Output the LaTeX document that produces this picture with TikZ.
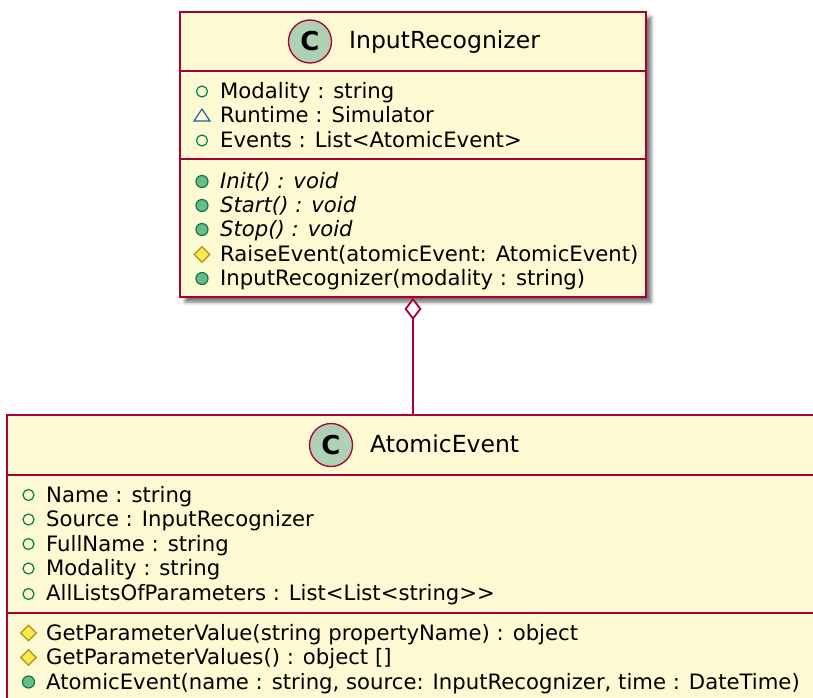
\documentclass[tikz,border=0pt]{standalone}
\usepackage{fontspec}
\setmainfont{DejaVu Sans}[Ligatures=TeXOff]
\usetikzlibrary{arrows.meta,shadows.blur,shapes.geometric}

\definecolor{umlborder}{HTML}{A80036}
\definecolor{umlfill}{HTML}{FDFAD3}
\definecolor{spotfill}{HTML}{ADD1B2}
\definecolor{publine}{HTML}{038048}
\definecolor{pubfill}{HTML}{6DB98A}
\definecolor{pkgline}{HTML}{1963A0}
\definecolor{protline}{HTML}{B38D22}
\definecolor{protfill}{HTML}{F5EC4A}

\tikzset{
  classbox/.style={draw=umlborder, fill=umlfill, line width=1.8pt, inner sep=0pt,
    blur shadow={shadow xshift=5pt, shadow yshift=-5pt, shadow blur radius=3.5pt, shadow opacity=55}},
  sep/.style={draw=umlborder, line width=1.8pt},
  member/.style={anchor=base west, inner sep=0pt, font=\fontsize{21.2}{24}\selectfont},
  abstractmember/.style={anchor=base west, inner sep=0pt, font=\fontsize{21.2}{24}\selectfont\itshape},
  classtitle/.style={anchor=base west, inner sep=0pt, font=\fontsize{23.5}{28}\selectfont},
  spot/.style={circle, draw=umlborder, fill=spotfill, line width=1.3pt, minimum size=43pt,
    inner sep=0pt, font=\fontsize{26}{26}\selectfont\bfseries},
  pubfield/.style={circle, draw=publine, line width=1.2pt, minimum size=11pt, inner sep=0pt},
  pubmethod/.style={circle, draw=publine, fill=pubfill, line width=1.2pt, minimum size=12pt, inner sep=0pt},
  protmethod/.style={diamond, draw=protline, fill=protfill, line width=1.2pt, minimum width=16pt,
    minimum height=16pt, inner sep=0pt},
  pkgfield/.style={draw=pkgline, line width=1.2pt},
  aggregation/.style={draw=umlborder, line width=1.8pt,
    {Diamond[fill=white, length=22pt, width=17pt]}-},
}

\begin{document}
\begin{tikzpicture}[x=1pt, y=-1pt]
  \useasboundingbox (0,0) rectangle (813,698);
  \clip (0,0) rectangle (813,698);

  % ---------------- InputRecognizer ----------------
  \node[classbox, minimum width=466pt, minimum height=285pt] (ir) at (413,154.5) {};
  \draw[sep] (ir.west |- 0,71) -- (ir.east |- 0,71);
  \draw[sep] (ir.west |- 0,159) -- (ir.east |- 0,159);

  \node[spot] (irspot) at (310,41.5) {C};
  \node[classtitle] (irtitle) at (349,49) {InputRecognizer};

  \node[pubfield] (ira1i) at (202,91.5) {};
  \node[member] (ira1) at (220,98.5) {Modality : string};
  \draw[pkgfield, shift={(202,116)}] (-8,5) -- (8,5) -- (0,-7) -- cycle;
  \node[member] (ira2) at (220,123) {Runtime : Simulator};
  \node[pubfield] (ira3i) at (202,140.5) {};
  \node[member] (ira3) at (220,147.5) {Events : List<AtomicEvent>};

  \node[pubmethod] (irm1i) at (202,181.5) {};
  \node[abstractmember] (irm1) at (220,188.5) {Init() : void};
  \node[pubmethod] (irm2i) at (202,205.5) {};
  \node[abstractmember] (irm2) at (220,212.5) {Start() : void};
  \node[pubmethod] (irm3i) at (202,229.5) {};
  \node[abstractmember] (irm3) at (220,236.5) {Stop() : void};
  \node[protmethod] (irm4i) at (202,254.5) {};
  \node[member] (irm4) at (220,261.5) {RaiseEvent(atomicEvent: AtomicEvent)};
  \node[pubmethod] (irm5i) at (202,278.5) {};
  \node[member] (irm5) at (220,285.5) {InputRecognizer(modality : string)};

  % ---------------- AtomicEvent ----------------
  \node[classbox, minimum width=823pt, minimum height=305pt] (ae) at (418.5,567.5) {};
  \draw[sep] (ae.west |- 0,475) -- (ae.east |- 0,475);
  \draw[sep] (ae.west |- 0,613) -- (ae.east |- 0,613);

  \node[spot] (aespot) at (331,445) {C};
  \node[classtitle] (aetitle) at (370,452) {AtomicEvent};

  \node[pubfield] (aea1i) at (28.5,495) {};
  \node[member] (aea1) at (46,502) {Name : string};
  \node[pubfield] (aea2i) at (28.5,519.5) {};
  \node[member] (aea2) at (46,526.5) {Source : InputRecognizer};
  \node[pubfield] (aea3i) at (28.5,544) {};
  \node[member] (aea3) at (46,551) {FullName : string};
  \node[pubfield] (aea4i) at (28.5,568.5) {};
  \node[member] (aea4) at (46,575.5) {Modality : string};
  \node[pubfield] (aea5i) at (28.5,594) {};
  \node[member] (aea5) at (46,600) {AllListsOfParameters : List<List<string>>};

  \node[protmethod] (aem1i) at (28.5,633) {};
  \node[member] (aem1) at (46,640) {GetParameterValue(string propertyName) : object};
  \node[protmethod] (aem2i) at (28.5,657.5) {};
  \node[member] (aem2) at (46,664.5) {GetParameterValues() : object []};
  \node[pubmethod] (aem3i) at (28.5,682) {};
  \node[member] (aem3) at (46,689) {AtomicEvent(name : string, source: InputRecognizer, time : DateTime)};

  % ---------------- aggregation ----------------
  \draw[aggregation] (ir.south) -- (ir.south |- ae.north);
\end{tikzpicture}
\end{document}
